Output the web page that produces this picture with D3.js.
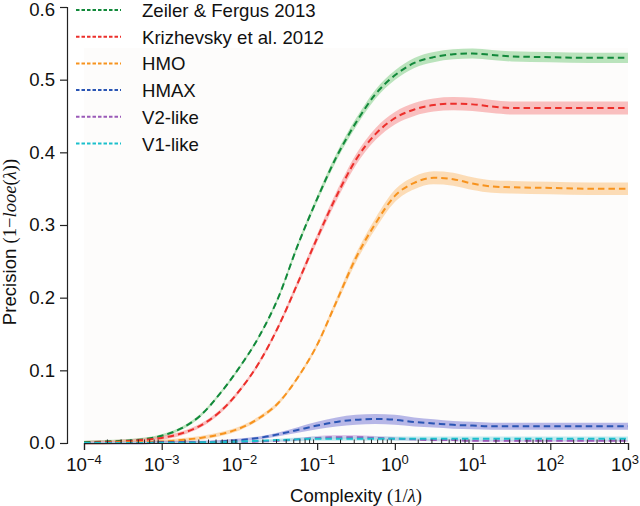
<!DOCTYPE html>
<html>
<head>
<meta charset="utf-8">
<script src="https://cdn.jsdelivr.net/npm/d3@7"></script>
<style>
  html, body { margin: 0; padding: 0; background: #ffffff; }
  svg { display: block; font-family: "Liberation Sans", Arial, Helvetica, sans-serif; }
</style>
</head>
<body>
<svg id="chart" width="640" height="506"></svg>
<script>
// ---- data ----
const logComplexity = [-4, -3.75, -3.5, -3.25, -3, -2.75, -2.5, -2.25, -2, -1.75, -1.5, -1.25, -1, -0.75, -0.5, -0.25, 0, 0.25, 0.5, 0.75, 1, 1.25, 1.5, 2, 2.5, 3];

const seriesNames = ["Zeiler & Fergus 2013", "Krizhevsky et al. 2012", "HMO", "HMAX", "V2-like", "V1-like"];

const zeilerFergus = [0.001, 0.002, 0.003, 0.005, 0.010, 0.020, 0.038, 0.068, 0.104, 0.146, 0.200, 0.272, 0.336, 0.394, 0.441, 0.480, 0.506, 0.523, 0.531, 0.535, 0.536, 0.534, 0.532, 0.531, 0.530, 0.530];
const krizhevsky   = [0.000, 0.001, 0.002, 0.004, 0.007, 0.013, 0.024, 0.043, 0.072, 0.110, 0.160, 0.220, 0.282, 0.340, 0.390, 0.425, 0.447, 0.459, 0.465, 0.467, 0.466, 0.463, 0.461, 0.461, 0.461, 0.461];
const hmo          = [0.000, 0.000, 0.001, 0.001, 0.002, 0.004, 0.007, 0.012, 0.020, 0.034, 0.055, 0.090, 0.135, 0.195, 0.255, 0.302, 0.340, 0.358, 0.365, 0.363, 0.357, 0.353, 0.352, 0.351, 0.350, 0.350];
const hmax         = [0.000, 0.000, 0.000, 0.000, 0.001, 0.001, 0.001, 0.002, 0.004, 0.007, 0.012, 0.018, 0.024, 0.029, 0.032, 0.033, 0.032, 0.029, 0.027, 0.025, 0.024, 0.023, 0.023, 0.023, 0.023, 0.023];
const v2like       = [0.000, 0.000, 0.000, 0.000, 0.000, 0.000, 0.001, 0.001, 0.001, 0.002, 0.003, 0.005, 0.007, 0.008, 0.008, 0.007, 0.006, 0.005, 0.004, 0.004, 0.003, 0.003, 0.003, 0.003, 0.003, 0.003];
const v1like       = [0.000, 0.000, 0.000, 0.000, 0.000, 0.000, 0.001, 0.001, 0.002, 0.003, 0.004, 0.005, 0.006, 0.006, 0.006, 0.006, 0.006, 0.006, 0.006, 0.006, 0.006, 0.006, 0.006, 0.006, 0.006, 0.006];

// spread (± band half-width) reached at the plateau of each series
const seriesSpread = [0.007, 0.009, 0.009, 0.007, 0.003, 0.003];

const yTicks = [0.0, 0.1, 0.2, 0.3, 0.4, 0.5, 0.6];
const yTickLabels = ["0.0", "0.1", "0.2", "0.3", "0.4", "0.5", "0.6"];
const xTicks = [1e-4, 1e-3, 1e-2, 1e-1, 1e0, 1e1, 1e2, 1e3];
const xTickExponents = ["−4", "−3", "−2", "−1", "0", "1", "2", "3"];

// ---- style ----
const lineColors = ["#12893b", "#ec2f2b", "#f7931e", "#2a55b4", "#9a5ab8", "#1bbfcc"];
const bandColors = ["#92d394", "#f79a9a", "#fcc88a", "#8d8dda", "#cfa9df", "#9fe1e6"];
const FS = 18.6;
const W = 640;

const allSeries = [zeilerFergus, krizhevsky, hmo, hmax, v2like, v1like];

const svg = d3.select("#chart");
const x = d3.scaleLog().domain([1e-4, 1e3]).range([84, 628]);
const y = d3.scaleLinear().domain([0, 0.6]).range([443, 7]);

// faint plot background
svg.append("rect")
  .attr("x", x.range()[0]).attr("y", 48)
  .attr("width", x.range()[1] - x.range()[0])
  .attr("height", y(0) - 48)
  .attr("fill", "#fdfcfb");

const rows = logComplexity.map((d, i) => ({ c: Math.pow(10, d), i }));

const area = (vals, s) => {
  const vmax = d3.max(vals);
  const hw = v => s * Math.max(0.3, v / vmax);
  return d3.area()
    .x(d => x(d.c))
    .y0(d => y(vals[d.i] - hw(vals[d.i])))
    .y1(d => y(vals[d.i] + hw(vals[d.i])))
    .curve(d3.curveMonotoneX);
};
const line = vals => d3.line()
  .x(d => x(d.c))
  .y(d => y(vals[d.i]))
  .curve(d3.curveMonotoneX);

const plot = svg.append("g");
allSeries.forEach((vals, k) => {
  plot.append("path")
    .attr("d", area(vals, seriesSpread[k])(rows))
    .attr("fill", bandColors[k])
    .attr("fill-opacity", 0.62)
    .attr("stroke", "none");
});
allSeries.forEach((vals, k) => {
  plot.append("path")
    .attr("d", line(vals)(rows))
    .attr("fill", "none")
    .attr("stroke", lineColors[k])
    .attr("stroke-width", 2)
    .attr("stroke-dasharray", "6.5,4");
});

// ---- axes ----
const axisColor = "#222";
const yAxis = svg.append("g")
  .attr("transform", "translate(67,0)")
  .call(d3.axisLeft(y).tickValues(yTicks).tickFormat((d, i) => yTickLabels[i]).tickSizeOuter(0).tickSize(7).tickPadding(5));
yAxis.selectAll("path, line").attr("stroke", axisColor).attr("stroke-width", 1.2);
yAxis.selectAll("text").attr("font-size", FS).attr("fill", "#111")
  .attr("font-family", "Liberation Sans, Arial, sans-serif");
yAxis.selectAll(".tick text").filter(d => d === 0.6).attr("dy", "0.45em");

const xAxis = svg.append("g")
  .attr("transform", `translate(0,${y(0)})`)
  .call(d3.axisBottom(x).tickValues(xTicks).tickFormat("").tickSizeOuter(0).tickSize(7));
xAxis.selectAll("path, line").attr("stroke", axisColor).attr("stroke-width", 1.2);

// minor ticks (inward)
const minor = [];
for (let j = -4; j < 3; j++) for (let m = 2; m <= 9; m++) minor.push(m * Math.pow(10, j));
svg.append("g").selectAll("line").data(minor).join("line")
  .attr("x1", d => x(d)).attr("x2", d => x(d))
  .attr("y1", y(0)).attr("y2", y(0) - 3.5)
  .attr("stroke", axisColor).attr("stroke-width", 1);

// x tick labels with superscripts
const xl = svg.append("g");
xTicks.forEach((t, i) => {
  const txt = xl.append("text")
    .attr("x", x(t)).attr("y", 471)
    .attr("text-anchor", "middle")
    .attr("font-size", FS).attr("fill", "#111");
  txt.append("tspan").text("10");
  txt.append("tspan").attr("font-size", 13).attr("dy", -7.5).text(xTickExponents[i]);
  // keep the label inside the picture
  const bb = txt.node().getBBox();
  if (bb.x + bb.width > W - 1) txt.attr("x", x(t) - (bb.x + bb.width - (W - 1)));
});

// axis labels
const xlab = svg.append("text")
  .attr("x", (x.range()[0] + x.range()[1]) / 2).attr("y", 502)
  .attr("text-anchor", "middle").attr("font-size", FS).attr("fill", "#111");
xlab.append("tspan").text("Complexity ");
xlab.append("tspan").attr("font-family", "Liberation Serif, serif").text("(1/");
xlab.append("tspan").attr("font-family", "Liberation Serif, serif").attr("font-style", "italic").text("λ");
xlab.append("tspan").attr("font-family", "Liberation Serif, serif").text(")");

const ylab = svg.append("text")
  .attr("transform", "translate(15.5,242) rotate(-90)")
  .attr("text-anchor", "middle").attr("font-size", FS).attr("fill", "#111");
ylab.append("tspan").text("Precision ");
ylab.append("tspan").attr("font-family", "Liberation Serif, serif").text("(1−");
ylab.append("tspan").attr("font-family", "Liberation Serif, serif").attr("font-style", "italic").text("looe");
ylab.append("tspan").attr("font-family", "Liberation Serif, serif").text("(");
ylab.append("tspan").attr("font-family", "Liberation Serif, serif").attr("font-style", "italic").text("λ");
ylab.append("tspan").attr("font-family", "Liberation Serif, serif").text("))");

// legend
const legend = svg.append("g");
seriesNames.forEach((name, k) => {
  const cy = 10 + k * 26.7;
  legend.append("line")
    .attr("x1", 76).attr("x2", 121).attr("y1", cy).attr("y2", cy)
    .attr("stroke", lineColors[k]).attr("stroke-width", 2)
    .attr("stroke-dasharray", "3.5,2");
  legend.append("text")
    .attr("x", 142).attr("y", cy + 7)
    .attr("font-size", FS).attr("fill", "#111").text(name);
});
</script>
</body>
</html>
